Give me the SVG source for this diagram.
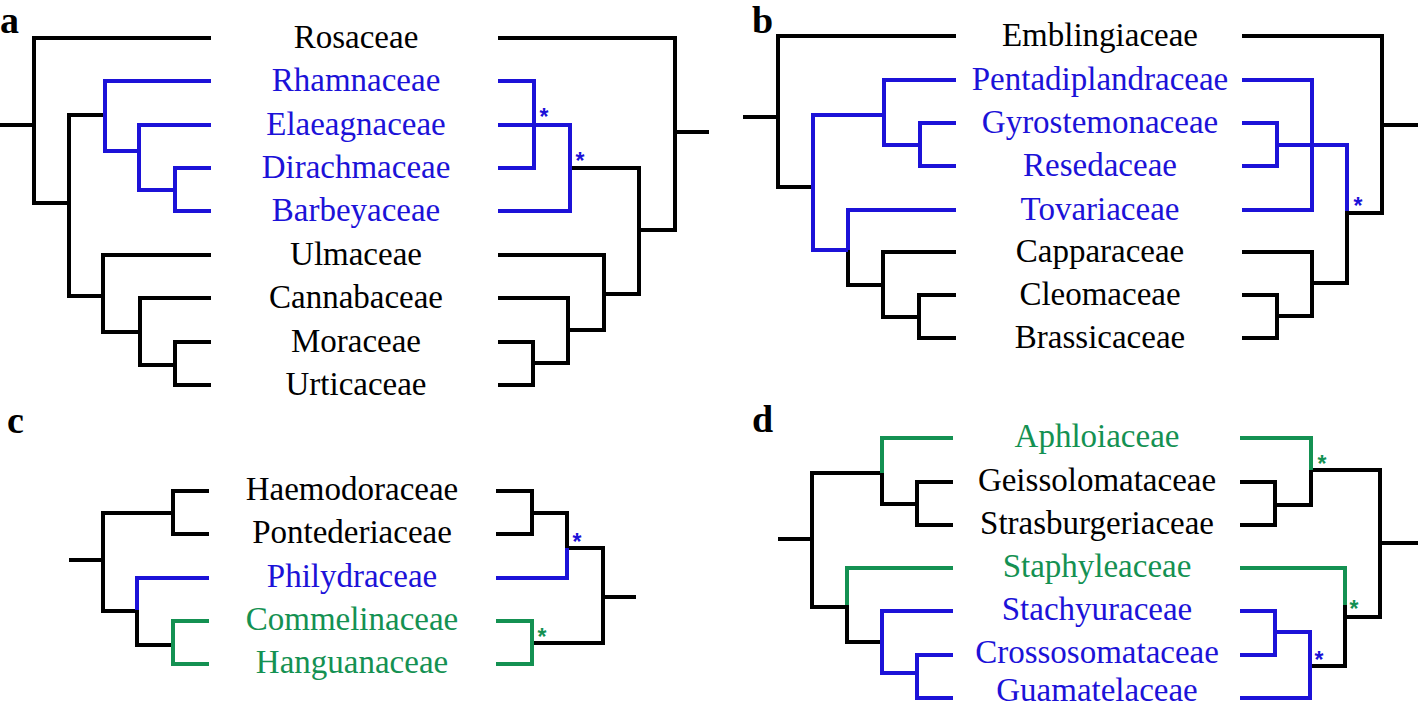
<svg xmlns="http://www.w3.org/2000/svg" width="1418" height="706" viewBox="0 0 1418 706">
<style>
.k{stroke:#000;stroke-width:4;fill:none;stroke-linejoin:miter;stroke-linecap:butt}
.bl{stroke:#1c12d8;stroke-width:4;fill:none;stroke-linejoin:miter;stroke-linecap:butt}
.gr{stroke:#149152;stroke-width:4;fill:none;stroke-linejoin:miter;stroke-linecap:butt}
.t{font-family:"Liberation Serif","Times New Roman",serif;font-size:33px;text-anchor:middle}
.tk{fill:#000}.tb{fill:#1c12d8}.tg{fill:#149152}
.p{font-family:"Liberation Serif","Times New Roman",serif;font-size:38px;font-weight:bold;fill:#000}
.s{font-family:"Liberation Sans",Arial,sans-serif;font-size:23px;font-weight:bold;text-anchor:middle}
</style>
<rect width="1418" height="706" fill="#fff"/>
<g id="panel-labels">
<text class="p" x="0" y="33">a</text>
<text class="p" x="752" y="33">b</text>
<text class="p" x="7" y="433">c</text>
<text class="p" x="752" y="432">d</text>
</g>
<g id="connectors">
<path class="k" d="M0 125 H34 M211 38 H34 V203 H69 M105 115 H69 V296 H103 M211 255 H103 V332 H140 M211 298 H140 V365 H175 M211 342 H175 V385 H211"/>
<path class="bl" d="M211 81 H105 V151 H139 M211 125 H139 V190 H175 M211 168 H175 V211 H211"/>
<path class="k" d="M498 38 H675 V230 H639 M675 132 H709 M570 168 H639 V294 H604 M498 255 H604 V330 H568 M498 298 H568 V363 H533 M498 342 H533 V385 H498"/>
<path class="bl" d="M498 81 H534 V168 H498 M498 125 H570 V211 H498"/>
<path class="k" d="M743 117 H778 M956 36 H778 V187 H813 M848 248 V285 H883 M956 252 H883 V317 H919 M956 295 H919 V338 H956"/>
<path class="bl" d="M956 80 H884 V145 H920 M956 123 H920 V166 H956 M884 115 H813 V250 H848 M956 210 H848 V250"/>
<path class="k" d="M1242 36 H1382 V213 H1347 M1382 125 H1418 M1347 211 V283 H1312 M1242 252 H1312 V316 H1277 M1242 295 H1277 V338 H1242"/>
<path class="bl" d="M1242 80 H1312 V210 H1242 M1242 123 H1277 V166 H1242 M1277 145 H1347 V211"/>
<path class="k" d="M69 560 H103 M173 513 H103 V611 H137 M209 491 H173 V534 H209 M137 610 V645 H173"/>
<path class="bl" d="M209 578 H137 V610"/>
<path class="gr" d="M209 621 H173 V664 H209"/>
<path class="k" d="M496 491 H532 V534 H496 M532 513 H567 V548 M567 548 H603 V643 H532 M603 597 H636"/>
<path class="bl" d="M496 578 H567 V548"/>
<path class="gr" d="M496 621 H532 V664 H496"/>
<path class="k" d="M778 539 H812 M882 473 H812 V607 H847 M882 473 V504 H917 M953 482 H917 V525 H953 M847 605 V642 H882"/>
<path class="gr" d="M953 438 H882 V473 M953 568 H847 V605"/>
<path class="bl" d="M953 611 H882 V673 H917 M953 655 H917 V698 H953"/>
<path class="k" d="M1311 470 V505 H1275 M1240 482 H1275 V525 H1240 M1311 470 H1380 V617 H1345 M1380 543 H1418 M1345 605 V666 H1310"/>
<path class="gr" d="M1240 438 H1311 V470 M1240 568 H1345 V605"/>
<path class="bl" d="M1240 611 H1275 V655 H1240 M1275 632 H1310 V698 H1240"/>
</g>
<g id="support">
<text class="s tb" x="544" y="125">*</text>
<text class="s tb" x="580" y="169">*</text>
<text class="s tb" x="1358" y="214">*</text>
<text class="s tb" x="577" y="550">*</text>
<text class="s tg" x="542" y="645">*</text>
<text class="s tg" x="1322" y="472">*</text>
<text class="s tg" x="1354" y="617">*</text>
<text class="s tb" x="1319" y="668">*</text>
</g>
<g id="a-Rosaceae"><text class="t tk" x="356" y="48">Rosaceae</text></g>
<g id="a-Rhamnaceae"><text class="t tb" x="356" y="91">Rhamnaceae</text></g>
<g id="a-Elaeagnaceae"><text class="t tb" x="356" y="135">Elaeagnaceae</text></g>
<g id="a-Dirachmaceae"><text class="t tb" x="356" y="178">Dirachmaceae</text></g>
<g id="a-Barbeyaceae"><text class="t tb" x="356" y="221">Barbeyaceae</text></g>
<g id="a-Ulmaceae"><text class="t tk" x="356" y="265">Ulmaceae</text></g>
<g id="a-Cannabaceae"><text class="t tk" x="356" y="308">Cannabaceae</text></g>
<g id="a-Moraceae"><text class="t tk" x="356" y="352">Moraceae</text></g>
<g id="a-Urticaceae"><text class="t tk" x="356" y="395">Urticaceae</text></g>
<g id="b-Emblingiaceae"><text class="t tk" x="1100" y="46">Emblingiaceae</text></g>
<g id="b-Pentadiplandraceae"><text class="t tb" x="1100" y="90">Pentadiplandraceae</text></g>
<g id="b-Gyrostemonaceae"><text class="t tb" x="1100" y="133">Gyrostemonaceae</text></g>
<g id="b-Resedaceae"><text class="t tb" x="1100" y="176">Resedaceae</text></g>
<g id="b-Tovariaceae"><text class="t tb" x="1100" y="220">Tovariaceae</text></g>
<g id="b-Capparaceae"><text class="t tk" x="1100" y="262">Capparaceae</text></g>
<g id="b-Cleomaceae"><text class="t tk" x="1100" y="305">Cleomaceae</text></g>
<g id="b-Brassicaceae"><text class="t tk" x="1100" y="348">Brassicaceae</text></g>
<g id="c-Haemodoraceae"><text class="t tk" x="352" y="500">Haemodoraceae</text></g>
<g id="c-Pontederiaceae"><text class="t tk" x="352" y="543">Pontederiaceae</text></g>
<g id="c-Philydraceae"><text class="t tb" x="352" y="587">Philydraceae</text></g>
<g id="c-Commelinaceae"><text class="t tg" x="352" y="630">Commelinaceae</text></g>
<g id="c-Hanguanaceae"><text class="t tg" x="352" y="673">Hanguanaceae</text></g>
<g id="d-Aphloiaceae"><text class="t tg" x="1097" y="447">Aphloiaceae</text></g>
<g id="d-Geissolomataceae"><text class="t tk" x="1097" y="491">Geissolomataceae</text></g>
<g id="d-Strasburgeriaceae"><text class="t tk" x="1097" y="534">Strasburgeriaceae</text></g>
<g id="d-Staphyleaceae"><text class="t tg" x="1097" y="577">Staphyleaceae</text></g>
<g id="d-Stachyuraceae"><text class="t tb" x="1097" y="620">Stachyuraceae</text></g>
<g id="d-Crossosomataceae"><text class="t tb" x="1097" y="663">Crossosomataceae</text></g>
<g id="d-Guamatelaceae"><text class="t tb" x="1097" y="701">Guamatelaceae</text></g>
</svg>
